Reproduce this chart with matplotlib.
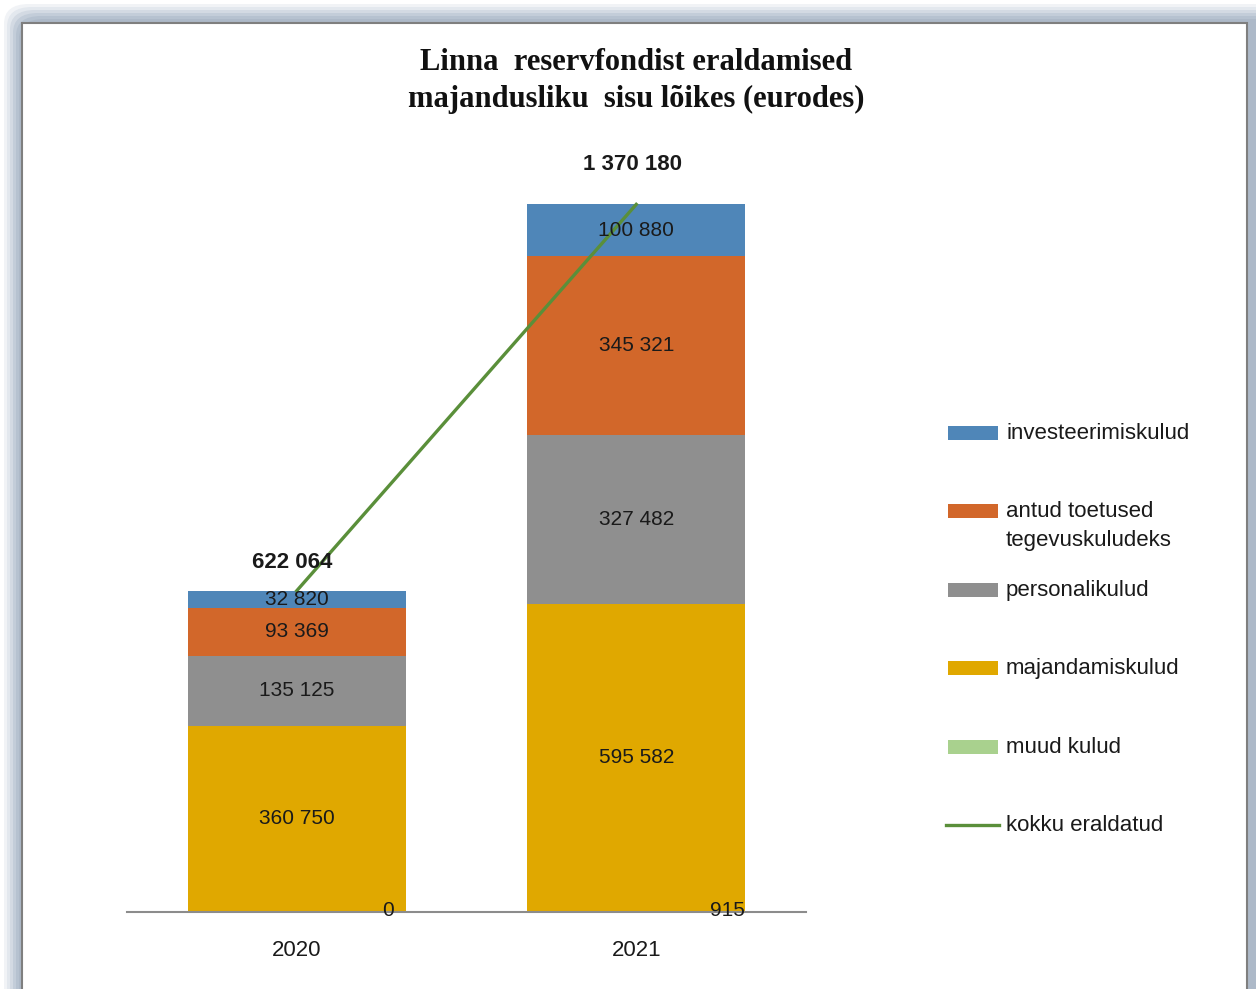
import matplotlib
matplotlib.use("Agg")
import matplotlib.pyplot as plt
from matplotlib.patches import FancyBboxPatch, Rectangle
from matplotlib.lines import Line2D
import numpy as np

years = ["2020", "2021"]
series = ["muud kulud", "majandamiskulud", "personalikulud",
          "antud toetused\ntegevuskuludeks", "investeerimiskulud"]
muud = [0, 915]
majandamis = [360750, 595582]
personali = [135125, 327482]
toetused = [93369, 345321]
investeerimis = [32820, 100880]
kokku = [622064, 1370180]

colors = ["#a9d18e", "#e0a800", "#8f8f8f", "#d2672a", "#4f86b8"]
line_color = "#5a8f3a"

W, H = 1256, 989
fig = plt.figure(figsize=(W / 100, H / 100), dpi=100)
fig.patch.set_facecolor("white")


def fx(px):
    return px / W


def fy(py):
    return 1 - py / H


# Excel-like frame with soft bluish shadow
shades = ["#f1f3f6", "#e3e8ee", "#d3dae3", "#c3cdd9", "#b6c2d0", "#adb9c8"]
for i, c in enumerate(shades):
    off = 4 + i * 3
    fig.patches.append(FancyBboxPatch((fx(off), fy(H + 40)), fx(W + 40 - off), fy(off) - fy(H + 40),
                                      boxstyle="round,pad=0,rounding_size=0.02",
                                      transform=fig.transFigure, facecolor=c,
                                      edgecolor="none", zorder=-5))
fig.patches.append(Rectangle((fx(22), fy(H + 10)), fx(1247) - fx(22), fy(23) - fy(H + 10),
                             transform=fig.transFigure, facecolor="white",
                             edgecolor="#7f7f7f", linewidth=1.5, zorder=-4))

ax = fig.add_axes([fx(127), fy(912), fx(806) - fx(127), fy(189) - fy(912)])
ax.set_facecolor("none")

x = np.arange(len(years))
width = 0.643
data = [muud, majandamis, personali, toetused, investeerimis]
bottom = np.zeros(len(years))
lab_font = dict(family="Liberation Sans", fontsize=15, color="#1a1a1a")
for k, (vals, col) in enumerate(zip(data, colors)):
    vals = np.array(vals, dtype=float)
    ax.bar(x, vals, width, bottom=bottom, color=col, zorder=2)
    for i in range(len(years)):
        txt = f"{int(vals[i]):,}".replace(",", " ")
        if k == 0:
            ax.text(x[i] + 0.27, bottom[i] + vals[i] / 2 + 3000, txt, ha="center", va="center",
                    zorder=5, **lab_font)
        else:
            ax.text(x[i], bottom[i] + vals[i] / 2, txt, ha="center", va="center",
                    zorder=5, **lab_font)
    bottom += vals

ax.plot(x, kokku, color=line_color, linewidth=2.4, zorder=4)
total_offsets = [20, 29]
for i in range(len(years)):
    ax.annotate(f"{kokku[i]:,}".replace(",", " "), (x[i], kokku[i]), xytext=(-3, total_offsets[i]),
                textcoords="offset points", ha="center", va="center",
                family="Liberation Sans", fontsize=16, fontweight="bold", color="#1a1a1a",
                zorder=5)

ax.set_xlim(-0.5, 1.5)
ax.set_ylim(0, 1400000)
ax.set_xticks(x)
ax.set_xticklabels(years, family="Liberation Sans", fontsize=16, color="#1a1a1a")
ax.tick_params(axis="x", length=0, pad=20)
ax.set_yticks([])
for s in ["left", "right", "top"]:
    ax.spines[s].set_visible(False)
ax.spines["bottom"].set_color("#8c8c8c")
ax.spines["bottom"].set_linewidth(1.5)
ax.spines["bottom"].set_zorder(3)

fig.text(fx(636), fy(63), "Linna  reservfondist eraldamised", ha="center", va="center",
         family="Liberation Serif", fontsize=22, fontweight="bold", color="#111111")
fig.text(fx(636), fy(99), "majandusliku  sisu lõikes (eurodes)", ha="center", va="center",
         family="Liberation Serif", fontsize=22, fontweight="bold", color="#111111")

# legend, Excel order (top series first), entries top-aligned
leg_items = list(zip(series[::-1], colors[::-1])) + [("kokku eraldatud", None)]
for j, (name, col) in enumerate(leg_items):
    yc = 433 + 78.4 * j
    if col is not None:
        fig.patches.append(Rectangle((fx(948), fy(yc + 7)), fx(998) - fx(948), fy(yc - 7) - fy(yc + 7),
                                     transform=fig.transFigure, facecolor=col, edgecolor="none"))
    else:
        fig.lines.append(Line2D([fx(946), fx(999)], [fy(yc), fy(yc)], transform=fig.transFigure,
                                color=line_color, linewidth=2.4))
    fig.text(fx(1006), fy(yc - 10), name, ha="left", va="top", linespacing=1.45,
             family="Liberation Sans", fontsize=16, color="#1a1a1a")

fig.savefig("out.png", dpi=100)
